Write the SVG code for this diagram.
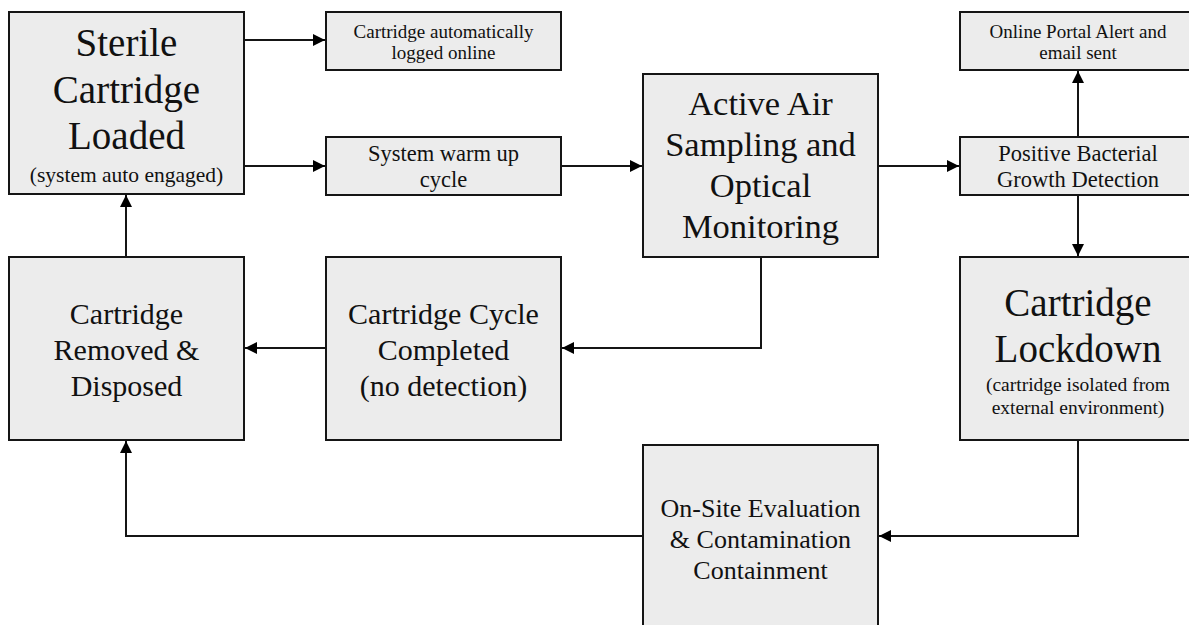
<svg xmlns="http://www.w3.org/2000/svg" width="1189" height="625" viewBox="0 0 1189 625">
<style>
.box{fill:#ececec;stroke:#151515;stroke-width:2}
.t{font-family:"Liberation Serif","Times New Roman",serif;fill:#111;text-anchor:middle}
.c{fill:none;stroke:#151515;stroke-width:2}
</style>
<defs>
<marker id="ah" markerUnits="userSpaceOnUse" markerWidth="13" markerHeight="12" refX="12" refY="6" orient="auto">
<path d="M0,0 L12,6 L0,12 z" fill="#000"/>
</marker>
</defs>
<rect width="1189" height="625" fill="#fff"/>
<g id="connectors">
<path class="c" d="M244,40 H325" marker-end="url(#ah)"/>
<path class="c" d="M244,166 H325" marker-end="url(#ah)"/>
<path class="c" d="M561,166 H642" marker-end="url(#ah)"/>
<path class="c" d="M878,166 H959" marker-end="url(#ah)"/>
<path class="c" d="M1078,137 V71" marker-end="url(#ah)"/>
<path class="c" d="M1078,195 V256" marker-end="url(#ah)"/>
<path class="c" d="M761,257 V348 H562" marker-end="url(#ah)"/>
<path class="c" d="M326,348 H245" marker-end="url(#ah)"/>
<path class="c" d="M1078,440 V536 H879" marker-end="url(#ah)"/>
<path class="c" d="M643,536 H126 V441" marker-end="url(#ah)"/>
<path class="c" d="M126,257 V195" marker-end="url(#ah)"/>
</g>
<g id="sterile">
<rect class="box" x="9" y="12" width="235" height="182"/>
<text class="t" font-size="39" x="126.5" y="56">Sterile</text>
<text class="t" font-size="39" x="126.5" y="102.5">Cartridge</text>
<text class="t" font-size="39" x="126.5" y="149">Loaded</text>
<text class="t" font-size="21.5" x="126.5" y="182">(system auto engaged)</text>
</g>
<g id="logged">
<rect class="box" x="326" y="12" width="235" height="58"/>
<text class="t" font-size="19" x="443.5" y="37.5">Cartridge automatically</text>
<text class="t" font-size="19" x="443.5" y="59">logged online</text>
</g>
<g id="warmup">
<rect class="box" x="326" y="137" width="235" height="58"/>
<text class="t" font-size="22.5" x="443.5" y="161">System warm up</text>
<text class="t" font-size="22.5" x="443.5" y="186.5">cycle</text>
</g>
<g id="active">
<rect class="box" x="643" y="74" width="235" height="183"/>
<text class="t" font-size="34.5" x="760.5" y="115">Active Air</text>
<text class="t" font-size="34.5" x="760.5" y="156">Sampling and</text>
<text class="t" font-size="34.5" x="760.5" y="197">Optical</text>
<text class="t" font-size="34.5" x="760.5" y="238">Monitoring</text>
</g>
<g id="portal">
<rect class="box" x="960" y="12" width="236" height="58"/>
<text class="t" font-size="19" x="1078" y="37.5">Online Portal Alert and</text>
<text class="t" font-size="19" x="1078" y="59">email sent</text>
</g>
<g id="positive">
<rect class="box" x="960" y="137" width="236" height="58"/>
<text class="t" font-size="22.5" x="1078" y="161">Positive Bacterial</text>
<text class="t" font-size="22.5" x="1078" y="187">Growth Detection</text>
</g>
<g id="removed">
<rect class="box" x="9" y="257" width="235" height="183"/>
<text class="t" font-size="30" x="126.5" y="324">Cartridge</text>
<text class="t" font-size="30" x="126.5" y="360">Removed &amp;</text>
<text class="t" font-size="30" x="126.5" y="396">Disposed</text>
</g>
<g id="cycle">
<rect class="box" x="326" y="257" width="235" height="183"/>
<text class="t" font-size="30" x="443.5" y="324">Cartridge Cycle</text>
<text class="t" font-size="30" x="443.5" y="360">Completed</text>
<text class="t" font-size="30" x="443.5" y="396">(no detection)</text>
</g>
<g id="lockdown">
<rect class="box" x="960" y="257" width="236" height="183"/>
<text class="t" font-size="39" x="1078" y="316">Cartridge</text>
<text class="t" font-size="39" x="1078" y="362">Lockdown</text>
<text class="t" font-size="19.5" x="1078" y="391">(cartridge isolated from</text>
<text class="t" font-size="19.5" x="1078" y="414">external environment)</text>
</g>
<g id="onsite">
<rect class="box" x="643" y="445" width="235" height="185"/>
<text class="t" font-size="26" x="760.5" y="517">On-Site Evaluation</text>
<text class="t" font-size="26" x="760.5" y="548">&amp; Contamination</text>
<text class="t" font-size="26" x="760.5" y="579">Containment</text>
</g>
</svg>
